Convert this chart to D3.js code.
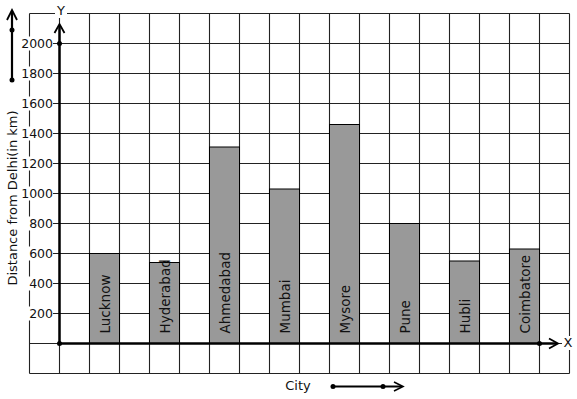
<!DOCTYPE html>
<html>
<head>
<meta charset="utf-8">
<script src="https://cdn.jsdelivr.net/npm/d3@7"></script>
<style>
  body { margin: 0; background: #fff; }
  svg { display: block; font-family: "DejaVu Sans", sans-serif; }
</style>
</head>
<body>
<svg id="chart" width="577" height="399"></svg>
<script>
// distances
const cities = ['Lucknow', 'Hyderabad', 'Ahmedabad', 'Mumbai', 'Mysore', 'Pune', 'Hubli', 'Coimbatore']
const distances = [600, 540, 1310, 1030, 1460, 800, 550, 630]
const yTicks = [200, 400, 600, 800, 1000, 1200, 1400, 1600, 1800, 2000]

const svg = d3.select('#chart')

// grid geometry: one cell is 30px, y-axis sits one cell from the left edge of the grid
const cell = 30
const originX = 59.5
const originY = 343.5

const y = d3.scaleLinear().domain([0, 2000]).range([originY, originY - 10 * cell])
const x = d3.scaleBand()
    .domain(cities)
    .range([originX + cell, originX + cell * 16])
    .paddingInner(0.5)
    .paddingOuter(0)

const gridLeft = originX - cell
const gridRight = originX + cell * 17
const gridTop = y(2200)
const gridBottom = y(-200)

const grid = svg.append('g').attr('class', 'grid')
    .attr('stroke', '#222')
    .attr('stroke-width', 1.1)

grid.selectAll('line.h')
    .data(d3.range(-200, 2201, 200))
    .join('line')
    .attr('class', 'h')
    .attr('x1', gridLeft).attr('x2', gridRight)
    .attr('y1', d => y(d)).attr('y2', d => y(d))

grid.selectAll('line.v')
    .data(d3.range(-1, 18))
    .join('line')
    .attr('class', 'v')
    .attr('x1', d => originX + d * cell).attr('x2', d => originX + d * cell)
    .attr('y1', gridTop).attr('y2', gridBottom)

// bars
const bars = svg.append('g').attr('class', 'bars')
bars.selectAll('rect')
    .data(cities)
    .join('rect')
    .attr('x', d => x(d))
    .attr('width', x.bandwidth())
    .attr('y', (d, i) => y(distances[i]))
    .attr('height', (d, i) => y(0) - y(distances[i]))
    .attr('fill', '#999999')
    .attr('stroke', '#000')
    .attr('stroke-width', 1)

bars.selectAll('text')
    .data(cities)
    .join('text')
    .attr('transform', d => `translate(${x(d) + x.bandwidth() / 2},${y(0) - 10}) rotate(-90)`)
    .attr('dominant-baseline', 'central')
    .attr('font-size', 13.5)
    .attr('fill', '#111')
    .text(d => d)

// y tick labels with white backing
const ticks = svg.append('g').attr('class', 'ticks')
const tick = ticks.selectAll('g')
    .data(yTicks)
    .join('g')
    .attr('transform', d => `translate(53,${y(d)})`)
tick.append('rect')
    .attr('x', -33).attr('y', -7)
    .attr('width', 33).attr('height', 14)
    .attr('fill', '#fff')
tick.append('text')
    .attr('text-anchor', 'end')
    .attr('dominant-baseline', 'central')
    .attr('font-size', 12.5)
    .attr('fill', '#111')
    .text(d => d)

// axes
const axes = svg.append('g').attr('class', 'axes')
    .attr('stroke', '#000').attr('fill', 'none')
    .attr('stroke-width', 2.5)

axes.append('line')
    .attr('x1', originX).attr('y1', originY)
    .attr('x2', originX).attr('y2', 25)
axes.append('path')
    .attr('stroke-width', 1.8)
    .attr('d', `M${originX - 5},33 L${originX},24 L${originX + 5},33`)

axes.append('line')
    .attr('x1', originX).attr('y1', originY)
    .attr('x2', 557).attr('y2', originY)
axes.append('path')
    .attr('stroke-width', 1.8)
    .attr('d', `M549,${originY - 5} L558,${originY} L549,${originY + 5}`)

// decorative arrows
axes.append('line').attr('stroke-width', 2.2)
    .attr('x1', 12).attr('y1', 80).attr('x2', 12).attr('y2', 11)
axes.append('path')
    .attr('stroke-width', 1.8)
    .attr('d', 'M7,20 L12,10 L17,20')

axes.append('line').attr('stroke-width', 1.8)
    .attr('x1', 333).attr('y1', 386.5).attr('x2', 402).attr('y2', 386.5)
axes.append('path')
    .attr('stroke-width', 1.6)
    .attr('d', 'M394,382 L403,386.5 L394,391')

const dots = [
    [originX, y(2000)], [originX, originY], [539.5, originY],
    [12, 30], [12, 80], [333, 386.5], [383, 386.5]
]
svg.append('g').selectAll('circle')
    .data(dots)
    .join('circle')
    .attr('cx', d => d[0]).attr('cy', d => d[1])
    .attr('r', 2.5)
    .attr('fill', '#000')

// axis letters and titles
const labels = svg.append('g').attr('font-size', 13).attr('fill', '#111')
labels.append('rect').attr('x', 55).attr('y', 4).attr('width', 12).attr('height', 14).attr('fill', '#fff')
labels.append('text')
    .attr('x', 61).attr('y', 10)
    .attr('text-anchor', 'middle').attr('dominant-baseline', 'central')
    .text('Y')
labels.append('rect').attr('x', 562).attr('y', 336).attr('width', 12).attr('height', 14).attr('fill', '#fff')
labels.append('text')
    .attr('x', 568).attr('y', originY - 1)
    .attr('text-anchor', 'middle').attr('dominant-baseline', 'central')
    .text('X')
labels.append('text')
    .attr('x', 298).attr('y', 385)
    .attr('text-anchor', 'middle').attr('dominant-baseline', 'central')
    .text('City')
labels.append('text')
    .attr('transform', 'translate(12,198) rotate(-90)')
    .attr('text-anchor', 'middle').attr('dominant-baseline', 'central')
    .text('Distance from Delhi(in km)')
</script>
</body>
</html>
